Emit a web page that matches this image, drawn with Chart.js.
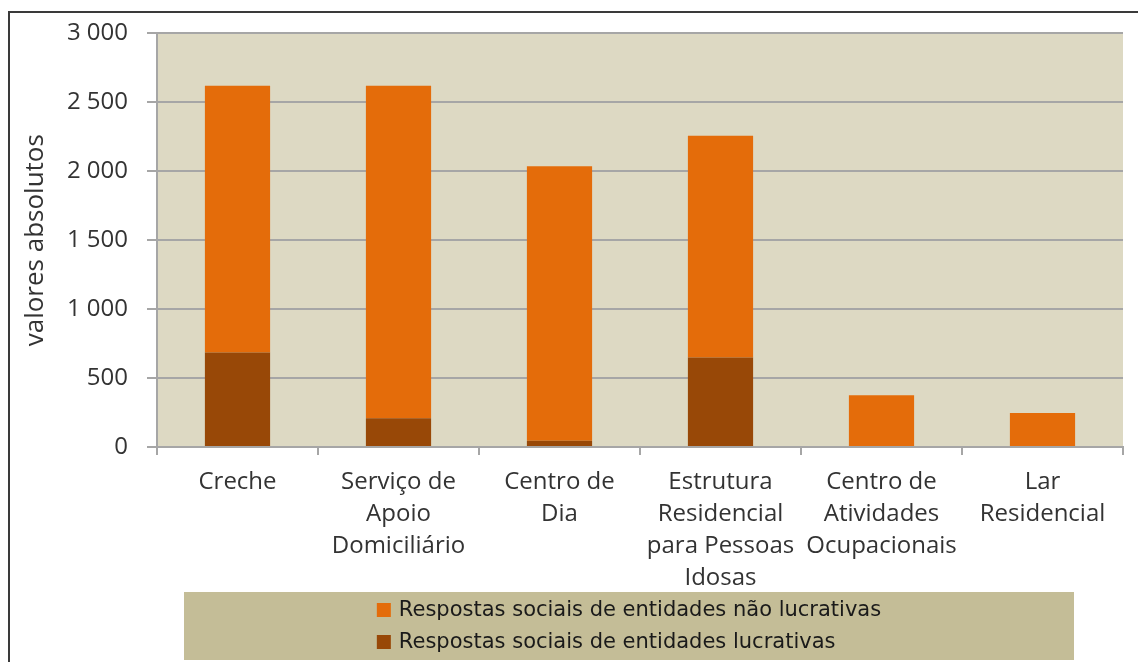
<!DOCTYPE html>
<html>
<head>
<meta charset="utf-8">
<script src="https://cdn.jsdelivr.net/npm/chart.js@4"></script>
<style>
  html, body { margin: 0; padding: 0; background: #fff; }
  #wrap { width: 1138px; height: 662px; position: relative; }
</style>
</head>
<body>
<div id="wrap"><canvas id="respostasChart"></canvas></div>
<script>
// categorias (rótulos em várias linhas)
const categorias = [
  ["Creche"],
  ["Serviço de", "Apoio", "Domiciliário"],
  ["Centro de", "Dia"],
  ["Estrutura", "Residencial", "para Pessoas", "Idosas"],
  ["Centro de", "Atividades", "Ocupacionais"],
  ["Lar", "Residencial"],
];
const lucrativas = [685, 209, 45, 649, 0, 0];
const naoLucrativas = [1935, 2411, 1991, 1608, 375, 247];
const yTicks = [0, 500, 1000, 1500, 2000, 2500, 3000];

const corNaoLucr = "#e46c0a";
const corLucr = "#984807";

function fmt(v) {
  return String(v).replace(/\B(?=(\d{3})+(?!\d))/g, " ");
}

// fundo da área do gráfico + moldura
const fundo = {
  id: "fundo",
  beforeDraw(chart) {
    const { ctx, chartArea: a } = chart;
    ctx.save();
    ctx.fillStyle = "#ddd9c3";
    ctx.fillRect(a.left, a.top, a.right - a.left, a.bottom - a.top);
    ctx.restore();
  },
  afterDraw(chart) {
    const ctx = chart.ctx;
    ctx.save();
    ctx.strokeStyle = "#3a3a3a";
    ctx.lineWidth = 2;
    ctx.beginPath();
    ctx.moveTo(9, chart.height);
    ctx.lineTo(9, 12);
    ctx.lineTo(chart.width, 12);
    ctx.stroke();
    ctx.restore();
  },
};

// legenda em caixa, duas linhas
const legendaCaixa = {
  id: "legendaCaixa",
  afterDraw(chart) {
    const ctx = chart.ctx;
    const box = { x: 184, y: 592, w: 890, h: 68 };
    ctx.save();
    ctx.fillStyle = "#c4bd97";
    ctx.fillRect(box.x, box.y, box.w, box.h);
    const itens = chart.data.datasets.slice().reverse();
    ctx.font = "21px 'DejaVu Sans', sans-serif";
    ctx.textBaseline = "middle";
    let maxW = 0;
    itens.forEach((d) => { maxW = Math.max(maxW, ctx.measureText(d.label).width); });
    const sq = 14;
    const x0 = box.x + box.w / 2 - (sq + 8 + maxW) / 2;
    itens.forEach((d, i) => {
      const cy = box.y + 18 + i * 32;
      ctx.fillStyle = d.backgroundColor;
      ctx.fillRect(x0, cy - sq / 2, sq, sq);
      ctx.fillStyle = "#1a1a1a";
      ctx.fillText(d.label, x0 + sq + 8, cy + 1);
    });
    ctx.restore();
  },
};

const data = {
  labels: categorias,
  datasets: [
    {
      label: "Respostas sociais de entidades lucrativas",
      data: lucrativas,
      backgroundColor: corLucr,
      barPercentage: 0.405,
      categoryPercentage: 1,
    },
    {
      label: "Respostas sociais de entidades não lucrativas",
      data: naoLucrativas,
      backgroundColor: corNaoLucr,
      barPercentage: 0.405,
      categoryPercentage: 1,
    },
  ],
};

const config = {
  type: "bar",
  data: data,
  options: {
    responsive: true,
    maintainAspectRatio: false,
    animation: false,
    layout: { padding: { top: 31, right: 15, left: 0, bottom: 0 } },
    plugins: {
      legend: { display: false },
      tooltip: { enabled: false },
    },
    scales: {
      x: {
        stacked: true,
        grid: {
          offset: true,
          drawOnChartArea: false,
          drawTicks: true,
          tickLength: 8,
          color: "#a6a6a6",
          lineWidth: 2,
        },
        border: { color: "#a6a6a6", width: 2 },
        ticks: {
          color: "#333",
          padding: 11,
          maxRotation: 0,
          autoSkip: false,
          font: { family: "'Open Sans', sans-serif", size: 24, lineHeight: 1.34 },
        },
        afterFit(scale) { scale.height = 215; },
      },
      y: {
        stacked: true,
        min: 0,
        max: 3000,
        afterBuildTicks(scale) { scale.ticks = yTicks.map((v) => ({ value: v })); },
        grid: { color: "#a6a6a6", lineWidth: 2, tickLength: 10 },
        border: { color: "#a6a6a6", width: 2 },
        ticks: {
          color: "#333",
          padding: 19,
          font: { family: "'Open Sans', sans-serif", size: 24 },
          callback: (v) => fmt(v),
        },
        title: {
          display: true,
          text: "valores absolutos",
          color: "#333",
          padding: { top: 20, bottom: 0 },
          font: { family: "'Open Sans', sans-serif", size: 26 },
        },
        afterFit(scale) { scale.width = 157; },
      },
    },
  },
  plugins: [fundo, legendaCaixa],
};

const ctx = document.getElementById("respostasChart").getContext("2d");
new Chart(ctx, config);
</script>
</body>
</html>
